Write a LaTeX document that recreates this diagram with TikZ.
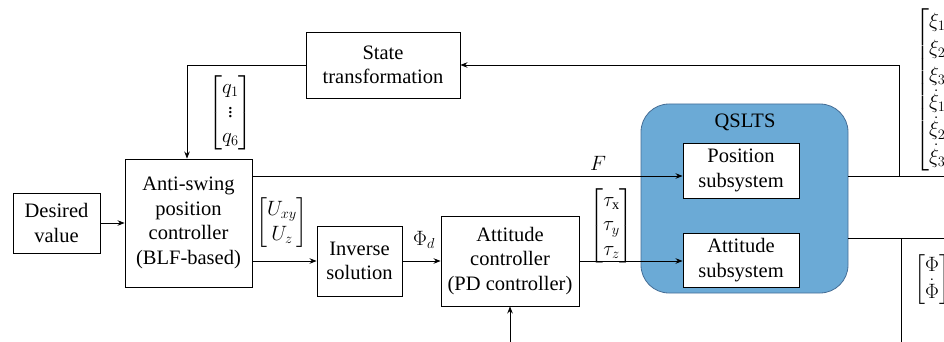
\documentclass[tikz,border=0pt]{standalone}
\usepackage{amsmath}
\usepackage{fontspec}
\setmainfont{Liberation Serif}
\usetikzlibrary{arrows.meta}
\definecolor{qblue}{RGB}{107,170,214}
\definecolor{qedge}{RGB}{70,110,150}
\begin{document}
\begin{tikzpicture}[x=1pt,y=-1pt,
  font=\rmfamily\fontsize{20.5}{24.5}\selectfont,
  blk/.style={draw=black,line width=0.9pt,fill=white,align=center,inner sep=0pt},
  lab/.style={inner sep=0pt},
  con/.style={line width=0.9pt},
  arr/.style={con,-{Stealth[length=7pt,width=5.5pt]}}]
\useasboundingbox (0,0) rectangle (944,342);
% QSLTS container
\node[draw=qedge,line width=0.8pt,fill=qblue,rounded corners=28pt,minimum width=207pt,minimum height=189pt] (qslts) at (744.5,198.5) {};
\node[lab] (qlabel) at (745,122) {QSLTS};
% blocks
\node[blk,minimum width=87pt,minimum height=60pt] (desired) at (56.5,223) {Desired\\value};
\node[blk,minimum width=127pt,minimum height=128pt] (anti) at (188.5,223) {Anti-swing\\position\\controller\\(BLF-based)};
\node[blk,minimum width=154pt,minimum height=66pt] (state) at (383,65) {State\\transformation};
\node[blk,minimum width=85pt,minimum height=70pt] (inv) at (359.5,261) {Inverse\\solution};
\node[blk,minimum width=138pt,minimum height=90pt] (att) at (510,261) {Attitude\\controller\\(PD controller)};
\node[blk,minimum width=116pt,minimum height=55pt] (pos) at (741,170.5) {Position\\subsystem};
\node[blk,minimum width=116pt,minimum height=54pt] (attsub) at (741,260) {Attitude\\subsystem};
% coordinates
\coordinate (fb1) at (899,176);
\coordinate (fb2) at (899,65);
\coordinate (fbL) at (187,65);
\coordinate (outA) at (944,176);
\coordinate (outB) at (944,238);
\coordinate (dn1) at (901,238);
\coordinate (dn2) at (901,342);
\coordinate (inB) at (510,342);
% connectors
\draw[arr] (desired.east) -- (anti.west);
\draw[arr] (anti.east |- 0,176) -- (pos.west |- 0,176);
\draw[arr] (anti.east |- inv.west) -- (inv.west);
\draw[arr] (inv.east) -- (att.west);
\draw[arr] (att.east) -- (attsub.west |- att.east);
\draw[con] (qslts.east |- outA) -- (outA);
\draw[arr] (fb1) -- (fb2) -- (state.east);
\draw[arr] (state.west) -- (fbL) -- (fbL |- anti.north);
\draw[con] (qslts.east |- outB) -- (outB);
\draw[con] (dn1) -- (dn2);
\draw[arr] (inB) -- (att.south);
% labels
\node[lab] (qvec) at (230.5,113) {$\begin{bmatrix} q_1\\ \vdots\\ q_6\end{bmatrix}$};
\node[lab] (uvec) at (282,223) {$\begin{bmatrix} U_{xy}\\ U_z\end{bmatrix}$};
\node[lab] (phid) at (424,240) {$\Phi_d$};
\node[lab] (tvec) at (611.5,226) {$\begin{bmatrix} \tau_{\mathrm{x}}\\ \tau_y\\ \tau_z\end{bmatrix}$};
\node[lab] (flab) at (598,163) {$F$};
\node[lab,anchor=west] (xivec) at (915,90) {\renewcommand\arraystretch{1.1}$\begin{bmatrix} \xi_1\\ \xi_2\\ \xi_3\\ \dot\xi_1\\ \dot\xi_2\\ \dot\xi_3\end{bmatrix}$};
\node[lab,anchor=west] (phvec) at (914,280) {$\begin{bmatrix} \Phi\\ \dot\Phi\end{bmatrix}$};
\end{tikzpicture}
\end{document}
